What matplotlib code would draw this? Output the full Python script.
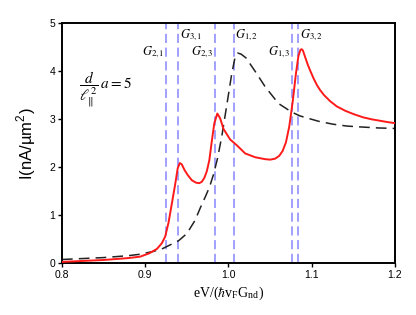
import matplotlib
matplotlib.use("Agg")
import matplotlib.pyplot as plt

# Black dashed curve
bx = [0.80, 0.85, 0.88, 0.894, 0.91, 0.92, 0.94, 0.95, 0.96, 0.966, 0.972, 0.977,
      0.982, 0.987, 0.992, 0.998, 1.004, 1.008, 1.011, 1.015, 1.021, 1.032, 1.044,
      1.060, 1.076, 1.086, 1.092, 1.108, 1.125, 1.142, 1.160, 1.180, 1.200]
by = [0.08, 0.12, 0.16, 0.19, 0.25, 0.30, 0.47, 0.62, 0.90, 1.15, 1.38, 1.58,
      1.85, 2.20, 2.65, 3.30, 3.96, 4.30, 4.38, 4.36, 4.28, 4.00, 3.68,
      3.33, 3.15, 3.07, 3.04, 2.96, 2.90, 2.86, 2.84, 2.82, 2.81]

# Red solid curve
rx = [0.80, 0.85, 0.88, 0.894, 0.905, 0.914, 0.920, 0.924, 0.928, 0.932, 0.936, 0.939,
      0.9415, 0.944, 0.947, 0.951, 0.956, 0.961, 0.965, 0.968, 0.971, 0.974, 0.977,
      0.980, 0.983, 0.9866, 0.990, 0.994, 1.002, 1.010, 1.020, 1.032, 1.044, 1.050,
      1.056, 1.061, 1.065, 1.069, 1.073, 1.077, 1.081, 1.084, 1.0865, 1.088, 1.0895,
      1.092, 1.095, 1.098, 1.102, 1.106, 1.110, 1.115, 1.122, 1.130, 1.140, 1.150,
      1.162, 1.172, 1.182, 1.192, 1.200]
ry = [0.03, 0.07, 0.11, 0.14, 0.21, 0.30, 0.42, 0.56, 0.85, 1.25, 1.65, 1.98,
      2.09, 2.06, 1.95, 1.84, 1.73, 1.68, 1.67, 1.70, 1.78, 1.92, 2.15,
      2.55, 2.92, 3.12, 3.02, 2.80, 2.58, 2.46, 2.29, 2.21, 2.17, 2.16,
      2.18, 2.24, 2.34, 2.52, 2.85, 3.35, 3.95, 4.32, 4.45, 4.46, 4.43,
      4.30, 4.15, 4.02, 3.86, 3.72, 3.61, 3.50, 3.38, 3.27, 3.18, 3.11,
      3.04, 3.00, 2.97, 2.94, 2.92]

# Vertical reference lines and labels
vlines = [0.925, 0.9397, 0.9838, 1.0066, 1.0759, 1.0839]
glabels = ["$G_{2,1}$", "$G_{3,1}$", "$G_{2,3}$", "$G_{1,2}$", "$G_{1,3}$", "$G_{3,2}$"]
glabel_y = [4.40, 4.75, 4.40, 4.75, 4.40, 4.75]
glabel_side = ["left", "right", "left", "right", "left", "right"]

xticks = [0.8, 0.9, 1.0, 1.1, 1.2]
xticklabels = ["0.8", "0.9", "1.0", "1.1", "1.2"]
yticks = [0, 1, 2, 3, 4, 5]

plt.rcParams["mathtext.fontset"] = "stix"

fig = plt.figure(figsize=(4.16, 3.15), dpi=100)
ax = fig.add_axes([0.149, 0.164, 0.8005, 0.762])

for v in vlines:
    ax.axvline(v, color="#6a6aff", lw=1.1, ls=(0, (6, 3)), alpha=0.8, zorder=1)

ax.plot(bx, by, color="#222222", lw=1.1, ls=(0, (7, 4)), zorder=2)
ax.plot(rx, ry, color="#ff1a1a", lw=1.4, zorder=3)

for v, lab, yy, side in zip(vlines, glabels, glabel_y, glabel_side):
    if side == "left":
        ax.text(v - 0.0015, yy, lab, ha="right", va="center", fontsize=9,
                fontfamily="Liberation Serif")
    else:
        ax.text(v + 0.0015, yy, lab, ha="left", va="center", fontsize=9,
                fontfamily="Liberation Serif")

ax.text(0.821, 3.62, r"$\dfrac{d}{\ell_{\|}^{\,2}}\,a=5$", fontsize=11,
        ha="left", va="center")

ax.set_xlim(0.8, 1.2)
ax.set_ylim(0, 5)
ax.set_xticks(xticks)
ax.set_xticklabels(xticklabels)
ax.set_yticks(yticks)
ax.tick_params(labelsize=7.5, length=3, width=1, direction="out", pad=2)
for lab in ax.get_xticklabels() + ax.get_yticklabels():
    lab.set_fontfamily("Liberation Sans")
for s in ax.spines.values():
    s.set_linewidth(1.4)

ax.set_ylabel("I(nA/\u00b5m$^\\mathregular{2}$)", fontsize=12,
              fontfamily="Liberation Sans", labelpad=8)
ax.set_xlabel(r"eV/($\hbar$v$_\mathregular{F}$G$_\mathregular{nd}$)", fontsize=10,
              fontfamily="Liberation Serif", labelpad=3)

fig.savefig("out.png", dpi=100)
